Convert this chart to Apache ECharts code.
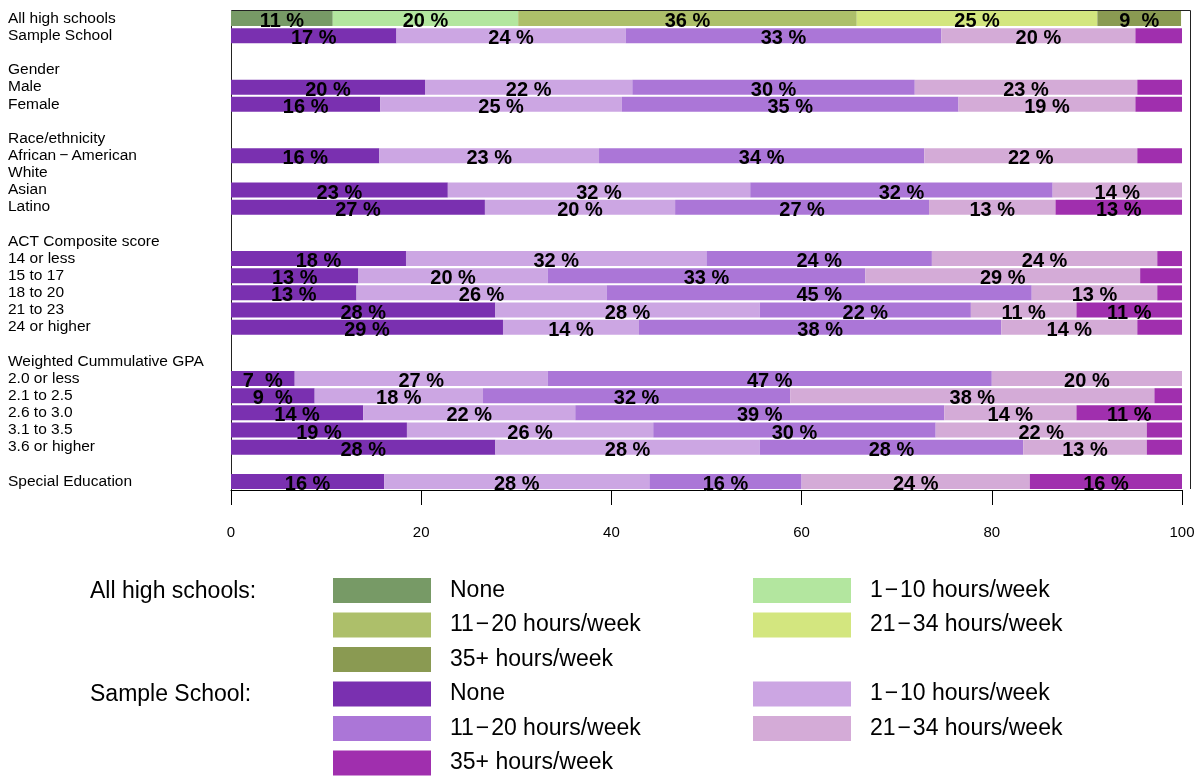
<!DOCTYPE html>
<html>
<head>
<meta charset="utf-8">
<script src="https://cdn.jsdelivr.net/npm/echarts@6/dist/echarts.min.js"></script>
<style>
html,body{margin:0;padding:0;background:#fff;}
#chart{width:1199px;height:776px;}
</style>
</head>
<body>
<div id="chart"></div>
<script>
// ---- data ----
const categories = ['All high schools','Sample School',' ','Gender','Male','Female','  ',
  'Race/ethnicity','African\u2009\u2212\u2009American','White','Asian','Latino','   ',
  'ACT Composite score','14 or less','15 to 17','18 to 20','21 to 23','24 or higher','    ',
  'Weighted Cummulative GPA','2.0 or less','2.1 to 2.5','2.6 to 3.0','3.1 to 3.5','3.6 or higher','     ',
  'Special Education'];

const hourBands = ['None','1\u200a\u2212\u200a10 hours/week','11\u200a\u2212\u200a20 hours/week','21\u200a\u2212\u200a34 hours/week','35+ hours/week'];

// shares (%) by band: None, 1-10, 11-20, 21-34, 35+
const allHighSchools = [10.7, 19.5, 35.6, 25.3, 8.8];
const sampleSchool   = [17.4, 24.1, 33.2, 20.4, 4.9];
const male           = [20.4, 21.8, 29.7, 23.4, 4.7];
const female         = [15.7, 25.4, 35.4, 18.6, 4.9];
const africanAmerican= [15.6, 23.1, 34.2, 22.4, 4.7];
const white          = [null, null, null, null, null];
const asian          = [22.8, 31.8, 31.8, 13.6, 0];
const latino         = [26.7, 20.0, 26.7, 13.3, 13.3];
const act14OrLess    = [18.4, 31.6, 23.7, 23.7, 2.6];
const act15to17      = [13.4, 19.9, 33.4, 28.9, 4.4];
const act18to20      = [13.2, 26.3, 44.7, 13.2, 2.6];
const act21to23      = [27.8, 27.8, 22.2, 11.1, 11.1];
const act24OrHigher  = [28.6, 14.3, 38.1, 14.3, 4.7];
const gpa20OrLess    = [6.7, 26.6, 46.7, 20.0, 0];
const gpa21to25      = [8.8, 17.7, 32.3, 38.3, 2.9];
const gpa26to30      = [13.9, 22.3, 38.8, 13.9, 11.1];
const gpa31to35      = [18.5, 25.9, 29.7, 22.2, 3.7];
const gpa36OrHigher  = [27.8, 27.8, 27.7, 13.0, 3.7];
const specialEd      = [16.1, 27.9, 16.0, 24.0, 16.0];

const xTicks = [0, 20, 40, 60, 80, 100];

const sampleRows = {
  'Sample School': sampleSchool, 'Male': male, 'Female': female,
  [categories[8]]: africanAmerican, 'White': white, 'Asian': asian, 'Latino': latino,
  '14 or less': act14OrLess, '15 to 17': act15to17, '18 to 20': act18to20,
  '21 to 23': act21to23, '24 or higher': act24OrHigher,
  '2.0 or less': gpa20OrLess, '2.1 to 2.5': gpa21to25, '2.6 to 3.0': gpa26to30,
  '3.1 to 3.5': gpa31to35, '3.6 or higher': gpa36OrHigher,
  'Special Education': specialEd
};

const allColors = ['#779a66', '#b3e69f', '#adbf6a', '#d3e67f', '#8a9a52'];
const sampleColors = ['#7a30b0', '#cca6e3', '#ab76d7', '#d4abd7', '#a02fae'];

const FONT = "'Liberation Sans', Arial, Helvetica, sans-serif";

const labelCfg = {
  show: true,
  position: 'inside',
  offset: [0, 3],
  color: '#000',
  fontFamily: FONT,
  fontWeight: 'bold',
  fontSize: 20,
  formatter: p => {
    const v = p.value;
    if (v == null || v === '-' || v < 5) return '';
    const r = Math.round(v);
    return r < 10 ? r + '  %' : r + ' %';
  }
};

const series = [];
hourBands.forEach((band, k) => {
  series.push({
    name: 'A|' + band, type: 'bar', stack: 'total', barWidth: 15,
    itemStyle: { color: allColors[k] },
    label: labelCfg,
    emphasis: { disabled: true },
    data: categories.map((c, i) => i === 0 ? allHighSchools[k] : '-')
  });
});
hourBands.forEach((band, k) => {
  series.push({
    name: 'S|' + band, type: 'bar', stack: 'total', barWidth: 15,
    itemStyle: { color: sampleColors[k] },
    label: labelCfg,
    emphasis: { disabled: true },
    data: categories.map(c => {
      const row = sampleRows[c];
      if (!row) return '-';
      const v = row[k];
      return (v == null || v === 0) ? '-' : v;
    })
  });
});

function legendBlock(prefix, idxs, left, top) {
  return {
    data: idxs.map(i => prefix + hourBands[i]),
    orient: 'vertical', left: left, top: top, padding: 0,
    itemWidth: 98, itemHeight: 25, itemGap: 9.5,
    icon: 'rect', selectedMode: false,
    formatter: n => n.split('|')[1],
    textStyle: { fontFamily: FONT, fontSize: 23, color: '#000', padding: [0, 0, 0, 14] }
  };
}

const chart = echarts.init(document.getElementById('chart'), null, { renderer: 'canvas' });
chart.setOption({
  animation: false,
  backgroundColor: '#fff',
  grid: { left: 231, right: 17, top: 10, bottom: 286, containLabel: false },
  xAxis: {
    type: 'value', min: xTicks[0], max: xTicks[xTicks.length - 1], interval: 20,
    splitLine: { show: false },
    axisLine: { show: true, lineStyle: { color: '#000', width: 1 } },
    axisTick: { show: true, length: 15, lineStyle: { color: '#000' } },
    axisLabel: { margin: 35, fontFamily: FONT, fontSize: 15, color: '#000' }
  },
  yAxis: {
    type: 'category', inverse: true, data: categories,
    axisLine: { show: false }, axisTick: { show: false },
    axisLabel: { align: 'left', margin: 223, fontFamily: FONT, fontSize: 15.5, color: '#000', interval: 0 }
  },
  legend: [
    legendBlock('A|', [0, 2, 4], 333, 578),
    legendBlock('A|', [1, 3], 753, 578),
    legendBlock('S|', [0, 2, 4], 333, 681.5),
    legendBlock('S|', [1, 3], 753, 681.5)
  ],
  graphic: [
    { type: 'polyline', silent: true, shape: { points: [[231.5, 490], [231.5, 10.5], [1190.5, 10.5], [1190.5, 489]] },
      style: { stroke: '#222', lineWidth: 1, fill: null } },
    { type: 'text', left: 90, top: 580, silent: true,
      style: { text: 'All high schools:', fontFamily: FONT, fontSize: 23, fill: '#000' } },
    { type: 'text', left: 90, top: 683, silent: true,
      style: { text: 'Sample School:', fontFamily: FONT, fontSize: 23, fill: '#000' } }
  ],
  series: series
});
</script>
</body>
</html>
